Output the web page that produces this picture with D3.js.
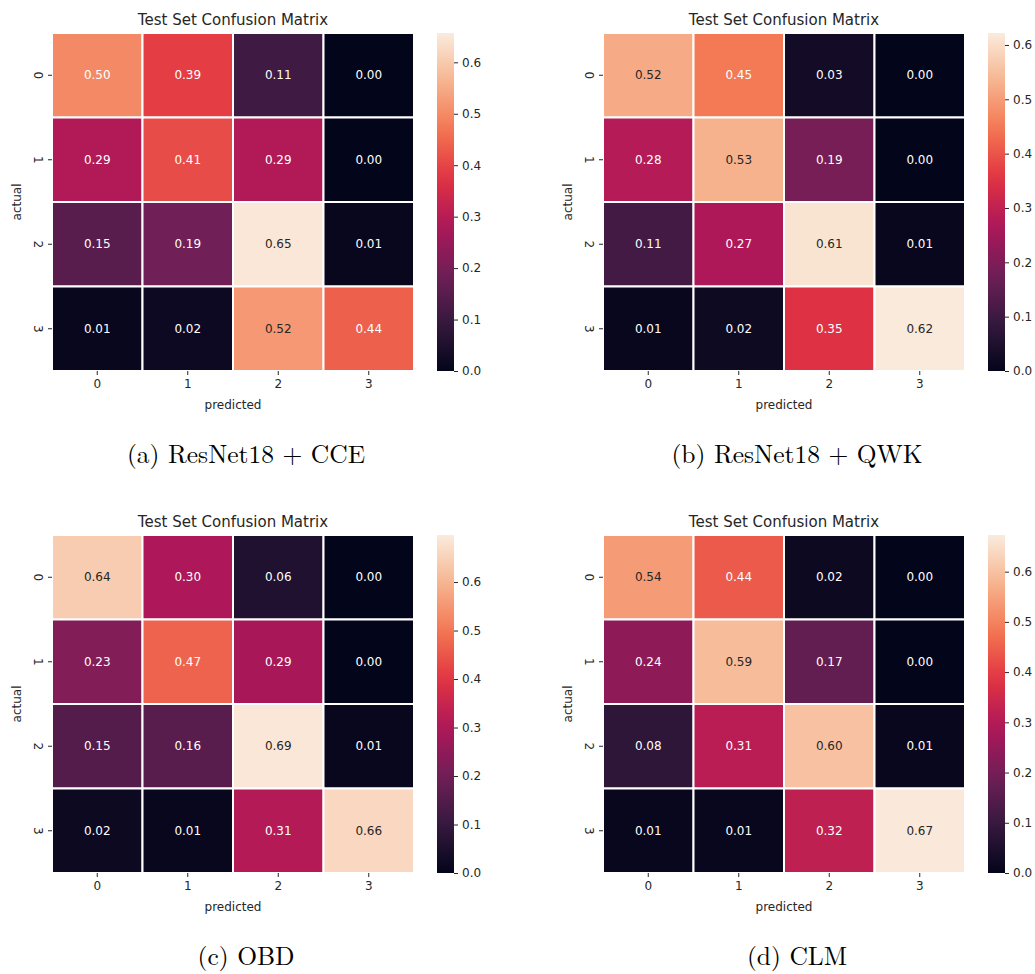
<!DOCTYPE html>
<html>
<head>
<meta charset="utf-8">
<script src="https://cdn.jsdelivr.net/npm/d3@7"></script>
<style>
  body { margin: 0; background: #fff; }
  text { font-family: "DejaVu Sans", sans-serif; fill: #262626; }
  .caption { font-family: "Latin Modern Roman", "CMU Serif", "DejaVu Serif", serif; font-size: 25.5px; fill: #000; }
</style>
</head>
<body>
<div id="chart"></div>
<script>
// confusion matrices (rows = actual, cols = predicted)
const classes = ["0", "1", "2", "3"];
const cmCCE = [[0.50, 0.39, 0.11, 0.00], [0.29, 0.41, 0.29, 0.00], [0.15, 0.19, 0.65, 0.01], [0.01, 0.02, 0.52, 0.44]];
const cmQWK = [[0.52, 0.45, 0.03, 0.00], [0.28, 0.53, 0.19, 0.00], [0.11, 0.27, 0.61, 0.01], [0.01, 0.02, 0.35, 0.62]];
const cmOBD = [[0.64, 0.30, 0.06, 0.00], [0.23, 0.47, 0.29, 0.00], [0.15, 0.16, 0.69, 0.01], [0.02, 0.01, 0.31, 0.66]];
const cmCLM = [[0.54, 0.44, 0.02, 0.00], [0.24, 0.59, 0.17, 0.00], [0.08, 0.31, 0.60, 0.01], [0.01, 0.01, 0.32, 0.67]];
const colorMax = [0.657, 0.622, 0.697, 0.673];
const captions = ["(a) ResNet18 + CCE", "(b) ResNet18 + QWK", "(c) OBD", "(d) CLM"];
const cbTicks = [0, 0.1, 0.2, 0.3, 0.4, 0.5, 0.6];

const matrices = [cmCCE, cmQWK, cmOBD, cmCLM];

const W = 1035, H = 974;
const svg = d3.select("#chart").append("svg").attr("width", W).attr("height", H);

// seaborn "rocket" approximated from its sampled palette
const rocketStops = ["#03051a", "#35193e", "#701f57", "#ad1759", "#e13342", "#f37651", "#f6b48f", "#faebdd"];
const rocket = d3.scaleLinear()
  .domain(rocketStops.map((c, i) => i / (rocketStops.length - 1)))
  .range(rocketStops)
  .interpolate(d3.interpolateRgb);

function luminance(c) {
  const rgb = d3.rgb(c);
  const f = v => { v /= 255; return v <= 0.03928 ? v / 12.92 : Math.pow((v + 0.055) / 1.055, 2.4); };
  return 0.2126 * f(rgb.r) + 0.7152 * f(rgb.g) + 0.0722 * f(rgb.b);
}

const hmW = 362, hmH = 338;
const defs = svg.append("defs");

matrices.forEach((cm, k) => {
  const ox = (k % 2) * 551, oy = Math.floor(k / 2) * 502;
  const g = svg.append("g").attr("transform", `translate(${ox + 52},${oy + 33})`);

  const x = d3.scaleBand().domain(classes).range([0, hmW]);
  const y = d3.scaleBand().domain(classes).range([0, hmH]);
  const col = v => rocket(v / colorMax[k]);

  const cells = [];
  cm.forEach((row, i) => row.forEach((v, j) => cells.push({ r: classes[i], c: classes[j], v })));

  g.selectAll("rect.cell").data(cells).enter().append("rect")
    .attr("class", "cell")
    .attr("x", d => x(d.c)).attr("y", d => y(d.r))
    .attr("width", x.bandwidth()).attr("height", y.bandwidth())
    .attr("fill", d => col(d.v))
    .attr("stroke", "#fff").attr("stroke-width", 2);

  g.selectAll("text.val").data(cells).enter().append("text")
    .attr("x", d => x(d.c) + x.bandwidth() / 2)
    .attr("y", d => y(d.r) + y.bandwidth() / 2)
    .attr("dy", "0.35em")
    .attr("text-anchor", "middle")
    .style("font-size", "12px")
    .style("fill", d => luminance(col(d.v)) > 0.408 ? "#262626" : "#fff")
    .text(d => d.v.toFixed(2));

  // x axis
  const xa = g.append("g").attr("transform", `translate(0,${hmH})`)
    .call(d3.axisBottom(x).tickSize(4).tickPadding(4));
  xa.select(".domain").remove();
  xa.selectAll("line").attr("stroke", "#262626");
  xa.selectAll("text").style("font-size", "12px").attr("fill", "#262626");

  // y axis, labels rotated like matplotlib
  const ya = g.append("g").call(d3.axisLeft(y).tickSize(4).tickPadding(4));
  ya.select(".domain").remove();
  ya.selectAll("line").attr("stroke", "#262626");
  ya.selectAll("text").style("font-size", "12px").attr("fill", "#262626")
    .attr("text-anchor", "middle").attr("x", 0).attr("y", 0).attr("dy", "0.35em")
    .attr("transform", "rotate(90) translate(0,14)");

  g.append("text").attr("x", hmW / 2).attr("y", hmH + 38)
    .attr("text-anchor", "middle").style("font-size", "12px").text("predicted");
  g.append("text").attr("transform", `translate(-31,${hmH / 2}) rotate(-90)`)
    .attr("text-anchor", "middle").style("font-size", "12px").text("actual");
  g.append("text").attr("x", hmW / 2).attr("y", -8)
    .attr("text-anchor", "middle").style("font-size", "15px").text("Test Set Confusion Matrix");

  // colorbar
  const gid = "rk" + k;
  const lg = defs.append("linearGradient").attr("id", gid)
    .attr("x1", "0%").attr("y1", "100%").attr("x2", "0%").attr("y2", "0%");
  d3.range(0, 1.0001, 0.05).forEach(t => lg.append("stop").attr("offset", t).attr("stop-color", rocket(t)));

  const cb = g.append("g").attr("transform", `translate(${hmW + 23},0)`);
  const cy = d3.scaleLinear().domain([0, colorMax[k]]).range([hmH, 0]);
  cb.append("rect").attr("width", 17).attr("height", hmH).attr("fill", `url(#${gid})`);
  const ca = cb.append("g").attr("transform", "translate(17,0)")
    .call(d3.axisRight(cy).tickValues(cbTicks).tickFormat(d3.format(".1f")).tickSize(4).tickPadding(4));
  ca.select(".domain").remove();
  ca.selectAll("line").attr("stroke", "#262626");
  ca.selectAll("text").style("font-size", "12px").attr("fill", "#262626");

  svg.append("text").attr("class", "caption")
    .attr("x", ox + 246).attr("y", oy + 463)
    .attr("text-anchor", "middle").text(captions[k]);
});
</script>
</body>
</html>
